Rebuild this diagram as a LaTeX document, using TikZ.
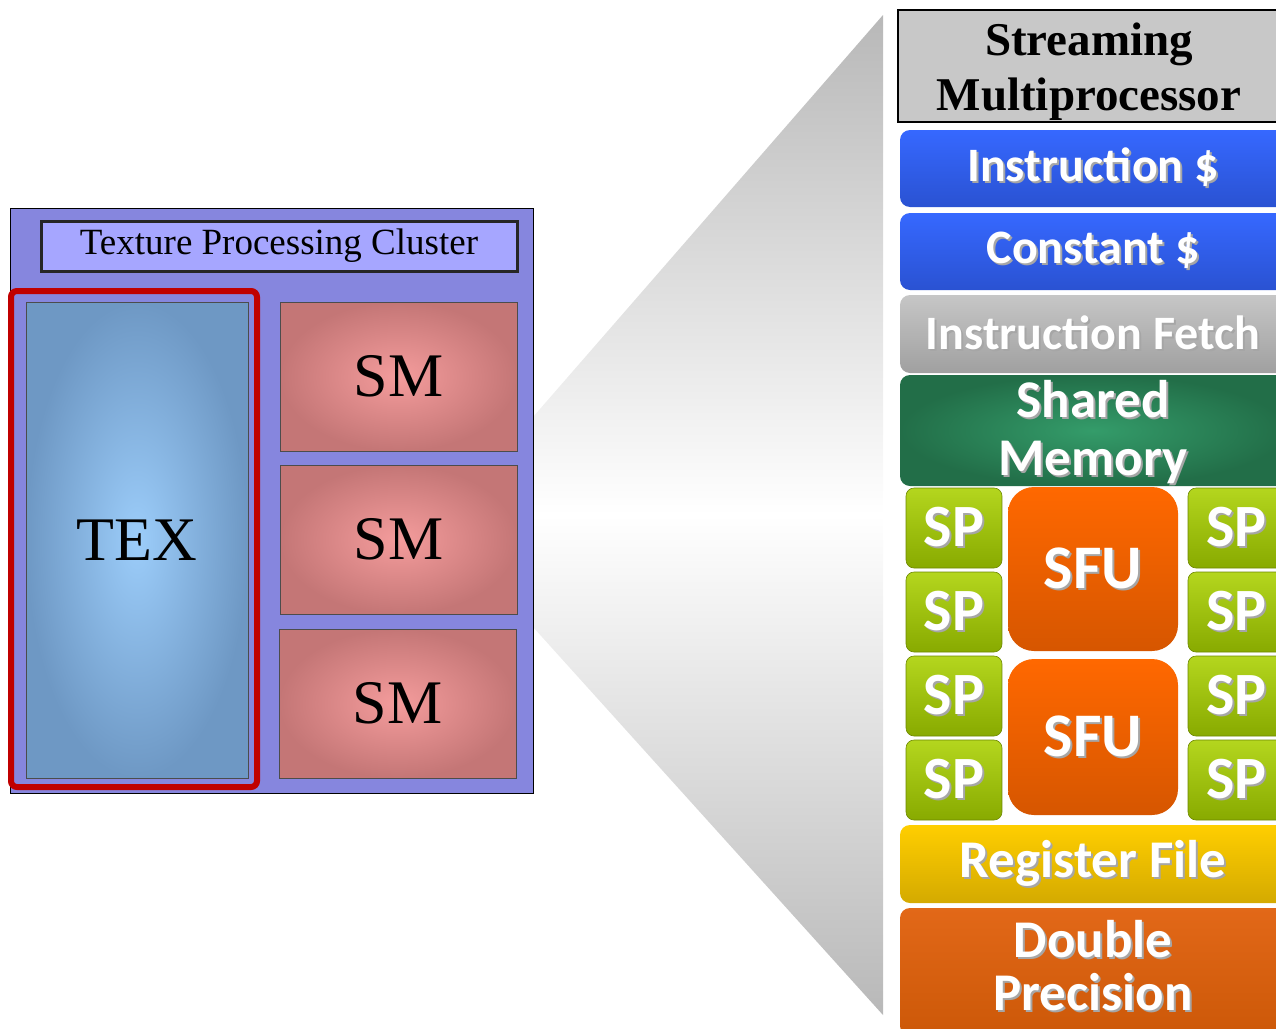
\documentclass[tikz,border=0pt]{standalone}
\usepackage{fontspec}
\setmainfont{Liberation Serif}
\newfontfamily\calfont{Carlito}
\usepackage{xcolor}
\usetikzlibrary{positioning}

\definecolor{tpcfill}{RGB}{134,134,222}
\definecolor{titlefill}{RGB}{166,166,255}
\definecolor{texedge}{RGB}{110,152,196}
\definecolor{texmid}{RGB}{156,205,250}
\definecolor{smedge}{RGB}{196,118,118}
\definecolor{smmid}{RGB}{244,156,156}
\definecolor{hired}{RGB}{192,0,0}
\definecolor{headgray}{RGB}{200,200,200}
\definecolor{cacheTop}{RGB}{54,104,255}
\definecolor{cacheBot}{RGB}{42,82,210}
\definecolor{fetchTop}{RGB}{198,198,198}
\definecolor{fetchBot}{RGB}{160,160,160}
\definecolor{shmemMid}{RGB}{52,156,106}
\definecolor{shmemEdge}{RGB}{34,110,72}
\definecolor{spTop}{RGB}{180,214,30}
\definecolor{spBot}{RGB}{136,170,0}
\definecolor{sfuTop}{RGB}{255,104,0}
\definecolor{sfuBot}{RGB}{214,86,0}
\definecolor{regTop}{RGB}{255,206,0}
\definecolor{regBot}{RGB}{212,170,0}
\definecolor{dpTop}{RGB}{226,104,24}
\definecolor{dpBot}{RGB}{204,88,8}
\definecolor{coneGray}{RGB}{184,184,184}

% white label with a soft drop shadow
\newcommand{\shtext}[1]{\leavevmode\rlap{\kern2pt\raisebox{-2pt}{\textcolor{black!35}{#1}}}#1}

\begin{document}
\begin{tikzpicture}[x=1pt, y=-1pt,
  blk/.style={rectangle, inner sep=0pt, outer sep=0pt, align=center},
  serifbox/.style={blk, draw=black!70, line width=1pt, font=\fontsize{62}{62}\selectfont},
  smbox/.style={serifbox, inner color=smmid, outer color=smedge, minimum width=237pt, minimum height=149pt},
  unit/.style={blk, rounded corners=10pt, text=white, font=\calfont\bfseries\fontsize{48}{58}\selectfont, minimum width=386pt, minimum height=77pt},
  bigunit/.style={unit, font=\calfont\bfseries\fontsize{53}{58}\selectfont},
  spbox/.style={unit, rounded corners=8pt, top color=spTop, bottom color=spBot, draw=spBot!80!black, line width=0.6pt, font=\calfont\bfseries\fontsize{60}{60}\selectfont, minimum height=80pt},
  sfubox/.style={unit, rounded corners=26pt, top color=sfuTop, bottom color=sfuBot, font=\calfont\bfseries\fontsize{62}{62}\selectfont, minimum width=170pt}
]
\useasboundingbox (0,0) rectangle (1276,1028);

% Zoom cone
\shade[top color=coneGray, bottom color=coneGray, middle color=white]
  (533,417) -- (883,15) -- (883,1015) -- (533,627) -- cycle;

% Texture processing cluster
\node[blk, draw=black, line width=1pt, fill=tpcfill, minimum width=523pt, minimum height=585pt, anchor=north west] (tpc) at (10,208) {};
\node[blk, draw=black!85, line width=3pt, fill=titlefill, minimum width=476pt, minimum height=50pt, font=\fontsize{37}{37}\selectfont, anchor=north west] (title) at (41,221) {Texture Processing Cluster};
\node[serifbox, inner color=texmid, outer color=texedge, minimum width=222pt, minimum height=476pt, anchor=north west] (tex) at (26,302) {TEX};
\node[smbox, anchor=north west] (sm1) at (280,302) {SM};
\node[smbox, below=14pt of sm1] (sm2) {SM};
\node[smbox, below=15pt of sm2, xshift=-1pt] (sm3) {SM};
\draw[hired, line width=6pt, rounded corners=6pt] (11,291) rectangle (257,787);

% Streaming multiprocessor
\node[blk, draw=black, line width=2pt, fill=headgray, minimum width=382pt, minimum height=112pt, text height=98pt, text depth=10pt, font=\bfseries\fontsize{47}{55}\selectfont, anchor=north west] (smhead) at (898,10) {Streaming\\Multiprocessor};
\node[unit, top color=cacheTop, bottom color=cacheBot, below=8pt of smhead, xshift=4pt] (icache) {\shtext{Instruction \$}};
\node[unit, top color=cacheTop, bottom color=cacheBot, below=6pt of icache] (ccache) {\shtext{Constant \$}};
\node[unit, top color=fetchTop, bottom color=fetchBot, minimum height=78pt, below=5pt of ccache] (ifetch) {\shtext{Instruction Fetch}};
\node[bigunit, inner color=shmemMid, outer color=shmemEdge, minimum height=111pt, text height=99pt, text depth=10pt, below=2pt of ifetch] (shmem) {\shtext{Shared}\\\shtext{Memory}};

% Cores
\node[spbox, minimum width=96pt, anchor=north west] (spa1) at (906,488) {\shtext{SP}};
\node[spbox, minimum width=96pt, below=4pt of spa1] (spa2) {\shtext{SP}};
\node[spbox, minimum width=96pt, below=4pt of spa2] (spa3) {\shtext{SP}};
\node[spbox, minimum width=96pt, below=4pt of spa3] (spa4) {\shtext{SP}};
\node[spbox, minimum width=97pt, anchor=north west] (spb1) at (1188,488) {\shtext{SP}};
\node[spbox, minimum width=97pt, below=4pt of spb1] (spb2) {\shtext{SP}};
\node[spbox, minimum width=97pt, below=4pt of spb2] (spb3) {\shtext{SP}};
\node[spbox, minimum width=97pt, below=4pt of spb3] (spb4) {\shtext{SP}};
\node[sfubox, minimum height=164pt, anchor=north west] (sfu1) at (1008,487) {\shtext{SFU}};
\node[sfubox, minimum height=156pt, below=8pt of sfu1] (sfu2) {\shtext{SFU}};

% Register file and double precision
\node[bigunit, top color=regTop, bottom color=regBot, minimum height=78pt, anchor=north west] (regfile) at (900,825) {\shtext{Register File}};
\node[bigunit, top color=dpTop, bottom color=dpBot, minimum height=128pt, text height=76pt, text depth=0pt, font=\calfont\bfseries\fontsize{53}{53}\selectfont, below=5pt of regfile] (dprec) {\shtext{Double}\\\shtext{Precision}};

\end{tikzpicture}
\end{document}
